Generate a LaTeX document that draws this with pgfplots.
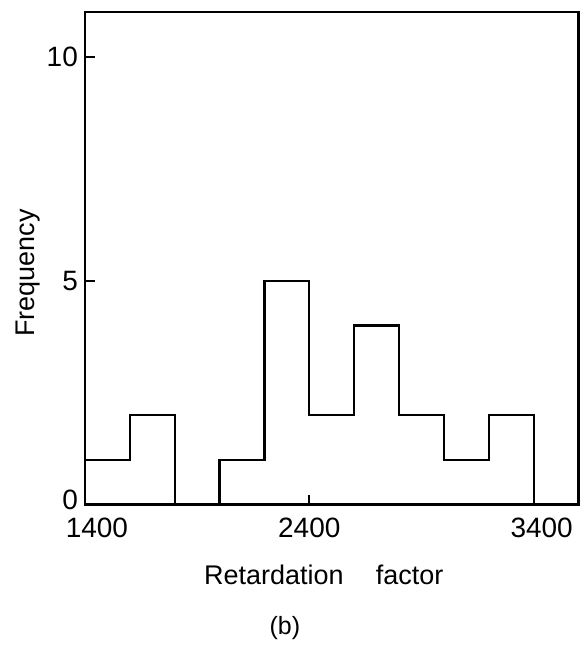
\documentclass[border=0pt]{standalone}
\usepackage{fontspec}
\setmainfont{Liberation Sans}
\usepackage{pgfplots}
\pgfplotsset{compat=1.18}

\begin{document}
\begin{tikzpicture}
\begin{axis}[
    name=ax,
    scale only axis,
    width=247pt, height=246.5pt,
    xmin=1400, xmax=3600,
    ymin=0, ymax=11,
    xtick={1400,2400,3400},
    xticklabels={\hspace{12pt}1400, 2400, \hspace{8pt}3400},
    ytick={0,5,10},
    yticklabels={\raisebox{5pt}{0}, 5, 10},
    tick pos=left,
    tick align=inside,
    major tick length=5pt,
    axis line style={line width=1.1pt},
    major tick style={line width=0.9pt, black},
    /pgf/number format/assume math mode=true,
    /pgf/number format/1000 sep={},
    tick label style={font=\fontsize{14}{16}\selectfont},
    x tick label style={yshift=-3pt},
    label style={font=\fontsize{13.5}{16}\selectfont},
    xlabel={Retardation\hspace{1.2em}factor},
    ylabel={Frequency},
    xlabel style={at={(axis description cs:0.484,-0.142)}, anchor=center},
    ylabel style={at={(axis description cs:-0.115,0.47)}, anchor=center},
    clip=false,
]
\addplot[const plot, line width=1.1pt, black] coordinates {
    (1400,0) (1400,1) (1600,2) (1800,0) (2000,1) (2200,5)
    (2400,2) (2600,4) (2800,2) (3000,1) (3200,2) (3400,0)
};
\node[font=\fontsize{12.5}{14}\selectfont] at (axis description cs:0.405,-0.25) {(b)};
\end{axis}
\path ([xshift=-42.5pt,yshift=-70.5pt]ax.south west) rectangle ([xshift=3.5pt,yshift=6pt]ax.north east);
\end{tikzpicture}
\end{document}
